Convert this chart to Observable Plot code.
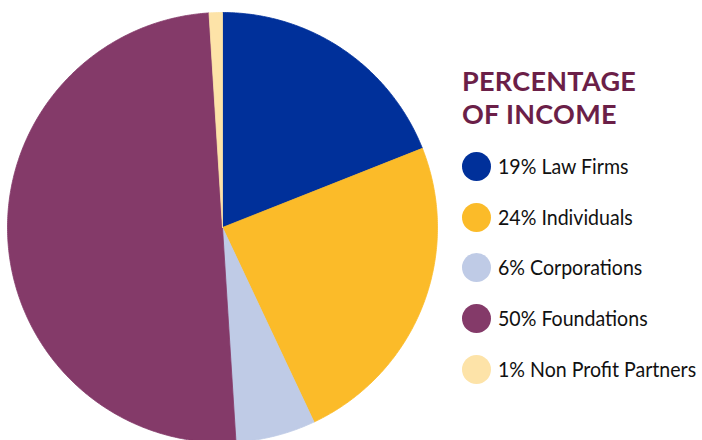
<!DOCTYPE html>
<html>
<head>
<meta charset="utf-8">
<script src="https://cdn.jsdelivr.net/npm/d3@7"></script>
<script src="https://cdn.jsdelivr.net/npm/@observablehq/plot@0.6"></script>
<style>
  html, body { margin: 0; padding: 0; background: #fff; overflow: hidden; }
  #wrap { position: relative; width: 702px; height: 440px; }
  #legend { position: absolute; left: 462px; top: 0; font-family: Lato, "Noto Sans", sans-serif; }
  #legend .title { position: absolute; left: 0; top: 64px; color: #6b1f48; font-weight: 700; font-size: 27px; line-height: 33px; white-space: nowrap; letter-spacing: 0.3px; }
  #legend .item { position: absolute; left: 0; white-space: nowrap; height: 30px; }
  #legend .sw { position: absolute; left: 0; top: 0; width: 29px; height: 29px; border-radius: 50%; }
  #legend .lab { position: absolute; left: 36px; top: -1px; font-size: 21.5px; line-height: 30px; color: #111; transform: scaleX(0.91); transform-origin: 0 50%; }
</style>
</head>
<body>
<div id="wrap"><div id="chart"></div><div id="legend"></div></div>
<script>
const categories = ["Law Firms", "Individuals", "Corporations", "Foundations", "Non Profit Partners"];
const values = [19, 24, 6, 50, 1];
const colors = ["#00309a", "#fbbb29", "#bfcbe6", "#843a69", "#fde3a8"];
const titleLines = ["PERCENTAGE", "OF INCOME"];

const data = categories.map((c, i) => ({category: c, value: values[i]}));
const arcs = d3.pie().value(d => d.value).sort(null).startAngle(0).endAngle(2 * Math.PI)(data);

// build slice outlines (in unit-radius coordinates) from the pie angles
const pts = [];
arcs.forEach(a => {
  const c = a.data.category;
  pts.push({category: c, x: 0, y: 0});
  const n = Math.max(2, Math.ceil((a.endAngle - a.startAngle) / (Math.PI / 360)));
  for (let k = 0; k <= n; k++) {
    const t = a.startAngle + (a.endAngle - a.startAngle) * k / n;
    pts.push({category: c, x: Math.sin(t), y: Math.cos(t)});
  }
  pts.push({category: c, x: 0, y: 0});
});

const R = 215, cx = 222, cy = 227, W = 702, H = 440;
const chart = Plot.plot({
  width: W, height: H,
  margin: 0,
  x: {domain: [-cx / R, (W - cx) / R], axis: null},
  y: {domain: [-(H - cy) / R, cy / R], axis: null},
  color: {domain: categories, range: colors},
  marks: [
    Plot.line(pts, {x: "x", y: "y", z: "category", fill: "category", stroke: "category", strokeWidth: 0.8, curve: "linear"})
  ]
});
document.getElementById("chart").appendChild(chart);

const legend = document.getElementById("legend");
const title = document.createElement("div");
title.className = "title";
title.innerHTML = titleLines.join("<br>");
legend.appendChild(title);
categories.forEach((c, i) => {
  const it = document.createElement("div");
  it.className = "item";
  it.style.top = (152 + i * 50.7) + "px";
  const sw = document.createElement("div");
  sw.className = "sw";
  sw.style.background = colors[i];
  const lab = document.createElement("div");
  lab.className = "lab";
  lab.textContent = values[i] + "% " + c;
  it.appendChild(sw); it.appendChild(lab);
  legend.appendChild(it);
});
</script>
</body>
</html>
